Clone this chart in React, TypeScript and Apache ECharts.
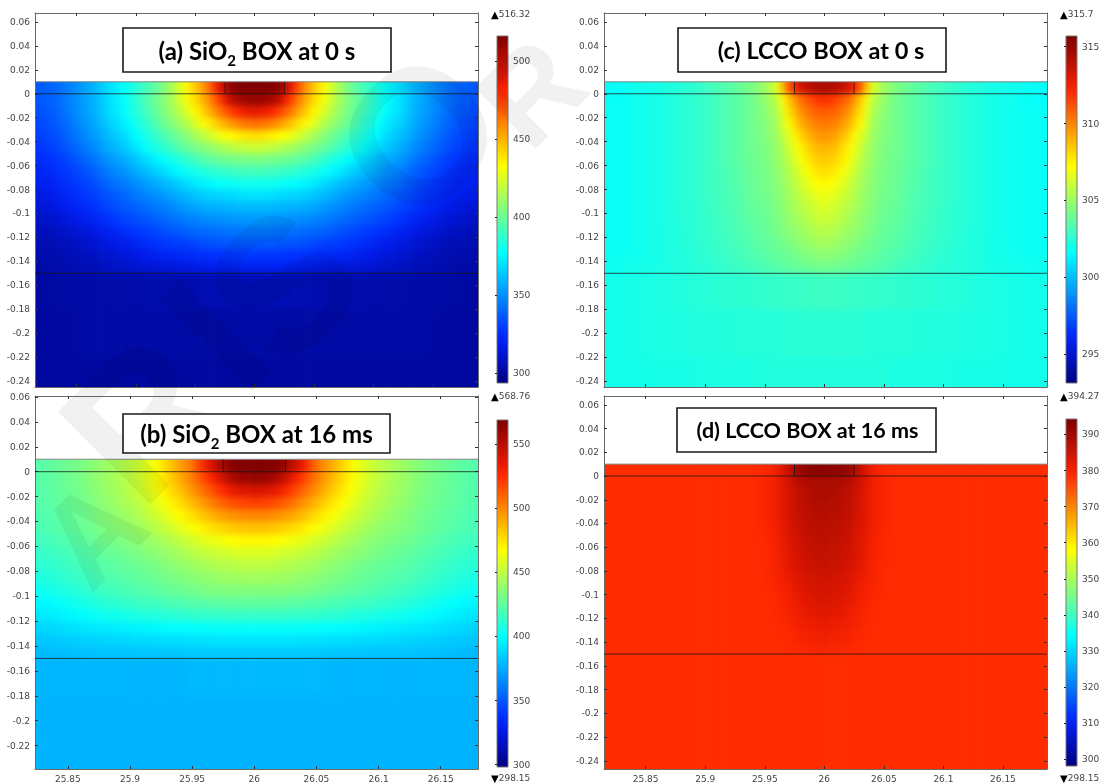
import React, { useEffect, useRef } from "react";
import * as echarts from "echarts";

const COL_OFFSETS_EDGES = [0.005, 0.015, 0.025, 0.035, 0.045, 0.055, 0.065, 0.075, 0.085, 0.095, 0.105, 0.115, 0.13, 0.15, 0.17, 0.21];
const ROW_EDGES = [0.03, 0, -0.01, -0.02, -0.03, -0.04, -0.05, -0.06, -0.07, -0.08, -0.09, -0.1, -0.11, -0.12, -0.13, -0.14, -0.15, -0.18, -0.22, -0.27];

const FIELD_A = [
  [516,516,514,490,462,445,430,414,402,393,386,378,370,356,344,335],
  [510,508,500,476,456,441,428,414,404,396,386,378,370,356,344,334],
  [489,486,476,463,448,434,422,411,402,393,385,377,369,355,343,332],
  [465,463,456,446,436,425,414,406,398,389,381,373,366,353,341,330],
  [440,438,434,429,421,413,405,398,391,384,377,369,362,350,338,328],
  [421,420,417,413,408,403,398,391,385,379,371,364,358,346,335,326],
  [404,403,402,400,397,392,386,381,376,370,363,357,352,341,331,323],
  [392,391,390,388,385,382,378,373,367,362,357,351,346,336,328,320],
  [381,380,379,378,375,372,367,363,358,354,350,345,341,332,325,318],
  [370,370,368,367,366,363,359,355,351,348,344,340,336,329,322,315],
  [360,360,359,358,357,355,352,348,345,342,339,336,332,325,318,312],
  [352,352,351,350,349,347,345,342,339,336,334,331,327,320,314,309],
  [344,344,343,342,341,340,338,335,333,330,328,325,321,315,310,306],
  [336,336,336,335,334,332,330,329,327,325,322,319,316,311,307,304],
  [328,328,328,327,326,325,323,322,321,319,316,314,312,308,305,303],
  [320,320,320,319,318,317,316,315,314,313,312,310,309,306,304,302],
  [305,305,305,305,305,304,304,304,304,304,303,303,303,302,302,301],
  [302,302,302,302,302,302,302,302,302,302,302,302,302,302,301,301],
  [301,301,301,301,301,301,301,301,301,301,301,301,301,301,301,301],
];

const FIELD_B = [
  [568,568,566,550,530,505,493,480,466,457,450,445,440,432,426,420],
  [562,560,552,535,518,503,490,478,466,457,450,445,440,432,426,420],
  [540,538,532,520,508,496,484,474,464,455,449,444,439,431,425,420],
  [520,518,514,506,496,486,476,468,459,452,446,442,437,430,425,420],
  [500,499,496,491,484,476,468,461,454,448,443,439,435,428,423,419],
  [484,483,481,477,472,466,460,454,448,443,439,436,433,427,422,418],
  [469,469,467,464,460,456,451,446,442,438,435,432,430,424,419,415],
  [458,458,456,454,451,448,444,440,437,434,431,428,426,421,416,412],
  [450,449,448,446,444,441,438,435,432,429,427,425,423,418,413,409],
  [442,442,441,440,438,436,433,431,428,426,424,422,420,415,410,405],
  [434,434,434,433,432,430,428,426,424,422,420,418,416,411,406,401],
  [425,425,425,424,423,422,420,419,417,416,414,412,410,405,400,396],
  [414,414,414,413,413,412,411,410,408,407,406,404,403,399,395,391],
  [401,401,401,401,401,400,400,399,398,397,396,395,394,392,389,386],
  [392,392,392,392,391,391,390,390,389,389,388,388,387,386,384,382],
  [384,384,384,384,384,384,383,383,383,383,382,382,382,381,380,379],
  [379,379,379,379,379,379,378,378,378,378,378,378,378,378,378,378],
  [377,377,377,377,377,377,377,377,377,377,377,377,377,377,377,377],
  [377,377,377,377,377,377,377,377,377,377,377,377,377,377,377,377],
];

const FIELD_C = [
  [314.5,314.3,313.5,311,306.5,305,304.3,303.9,303.5,303.2,302.9,302.6,302.4,302.1,301.9,301.6],
  [312,311.5,310.5,308.5,305.8,304.8,304.1,303.7,303.4,303.1,302.8,302.6,302.4,302.1,301.9,301.6],
  [311,310.7,309.7,307.9,305.5,304.6,304.1,303.7,303.4,303.1,302.8,302.6,302.4,302.1,301.9,301.7],
  [310.3,310,309,307.3,305.3,304.5,304.1,303.7,303.4,303.1,302.8,302.6,302.4,302.1,301.9,301.7],
  [309.7,309.3,308.2,306.6,305.1,304.4,304.1,303.7,303.4,303.1,302.8,302.6,302.4,302.1,301.9,301.7],
  [309,308.6,307.5,306.1,304.9,304.3,304.1,303.7,303.4,303.1,302.8,302.6,302.4,302.1,301.9,301.7],
  [308.5,308.1,307.1,305.8,304.8,304.3,304,303.7,303.4,303.1,302.8,302.6,302.4,302.1,301.9,301.7],
  [308,307.6,306.6,305.5,304.7,304.2,304,303.6,303.3,303,302.8,302.6,302.4,302.1,301.9,301.7],
  [307.4,307,306.2,305.3,304.6,304.2,303.9,303.6,303.3,303,302.8,302.6,302.4,302.1,301.9,301.7],
  [306.9,306.5,305.9,305.1,304.5,304.1,303.9,303.5,303.2,303,302.8,302.6,302.4,302.1,301.9,301.7],
  [306.5,306.1,305.6,305,304.4,304,303.8,303.5,303.2,303,302.7,302.5,302.4,302.1,301.9,301.7],
  [306.1,305.8,305.3,304.8,304.3,303.9,303.7,303.4,303.1,302.9,302.7,302.5,302.4,302.1,301.9,301.7],
  [305.7,305.4,305,304.6,304.2,303.8,303.6,303.3,303.1,302.9,302.7,302.5,302.3,302.1,301.9,301.7],
  [305.2,305,304.7,304.3,304,303.7,303.5,303.2,303,302.8,302.6,302.5,302.3,302.1,301.9,301.7],
  [304.7,304.5,304.3,304,303.8,303.5,303.3,303.1,302.9,302.7,302.6,302.4,302.3,302.1,301.9,301.8],
  [304.1,304,303.9,303.7,303.5,303.3,303.1,302.9,302.8,302.6,302.5,302.4,302.3,302.1,302,301.8],
  [302.9,302.9,302.8,302.8,302.7,302.7,302.6,302.6,302.5,302.5,302.4,302.4,302.3,302.2,302.1,302],
  [302.5,302.5,302.5,302.5,302.4,302.4,302.4,302.4,302.3,302.3,302.3,302.3,302.2,302.2,302.1,302],
  [302.3,302.3,302.3,302.3,302.3,302.3,302.2,302.2,302.2,302.2,302.2,302.1,302.1,302.1,302,302],
];

const FIELD_D = [
  [393,393,392,386,381,379,378.5,378.5,378.5,378.5,378.5,378.5,378.5,378.5,378.5,378.5],
  [389,389,388,385,381,379.5,378.7,378.5,378.5,378.5,378.5,378.5,378.5,378.5,378.5,378.5],
  [389,388.5,387,384,381,379.5,378.7,378.5,378.5,378.5,378.5,378.5,378.5,378.5,378.5,378.5],
  [388.5,388,386.8,384,381,379.5,378.7,378.5,378.5,378.5,378.5,378.5,378.5,378.5,378.5,378.5],
  [388,387.5,386.5,384,381,379.5,378.7,378.5,378.5,378.5,378.5,378.5,378.5,378.5,378.5,378.5],
  [387.5,387,386,383.5,380.8,379.2,378.6,378.5,378.5,378.5,378.5,378.5,378.5,378.5,378.5,378.5],
  [387,386.5,385.5,383,380.5,379,378.6,378.5,378.5,378.5,378.5,378.5,378.5,378.5,378.5,378.5],
  [386.5,386,385,382.8,380.2,379,378.5,378.5,378.5,378.5,378.5,378.5,378.5,378.5,378.5,378.5],
  [386,385.5,384.5,382.5,380,379,378.5,378.5,378.5,378.5,378.5,378.5,378.5,378.5,378.5,378.5],
  [385.2,384.8,383.8,381.8,379.8,378.8,378.5,378.5,378.5,378.5,378.5,378.5,378.5,378.5,378.5,378.5],
  [384.5,384,383,381,379.5,378.7,378.5,378.5,378.5,378.5,378.5,378.5,378.5,378.5,378.5,378.5],
  [383.8,383.3,382.3,380.5,379.2,378.6,378.5,378.5,378.5,378.5,378.5,378.5,378.5,378.5,378.5,378.5],
  [383,382.5,381.5,380,379,378.6,378.5,378.5,378.5,378.5,378.5,378.5,378.5,378.5,378.5,378.5],
  [382,381.5,380.8,379.5,378.8,378.5,378.5,378.5,378.5,378.5,378.5,378.5,378.5,378.5,378.5,378.5],
  [381,380.5,380,379,378.6,378.5,378.5,378.5,378.5,378.5,378.5,378.5,378.5,378.5,378.5,378.5],
  [380,379.6,379.2,378.7,378.5,378.5,378.5,378.5,378.5,378.5,378.5,378.5,378.5,378.5,378.5,378.5],
  [378.5,378.5,378.5,378.5,378.5,378.5,378.5,378.5,378.5,378.5,378.5,378.5,378.5,378.5,378.5,378.5],
  [378.5,378.5,378.5,378.5,378.5,378.5,378.5,378.5,378.5,378.5,378.5,378.5,378.5,378.5,378.5,378.5],
  [378.5,378.5,378.5,378.5,378.5,378.5,378.5,378.5,378.5,378.5,378.5,378.5,378.5,378.5,378.5,378.5],
];

const X_TICKS = [25.85, 25.9, 25.95, 26, 26.05, 26.1, 26.15];
const Y_TICKS_LONG = [0.06, 0.04, 0.02, 0, -0.02, -0.04, -0.06, -0.08, -0.1, -0.12, -0.14, -0.16, -0.18, -0.2, -0.22, -0.24];
const Y_TICKS_SHORT = [0.06, 0.04, 0.02, 0, -0.02, -0.04, -0.06, -0.08, -0.1, -0.12, -0.14, -0.16, -0.18, -0.2, -0.22];
const BAR_TICKS_A = [300, 350, 400, 450, 500];
const BAR_TICKS_B = [300, 350, 400, 450, 500, 550];
const BAR_TICKS_C = [295, 300, 305, 310, 315];
const BAR_TICKS_D = [300, 310, 320, 330, 340, 350, 360, 370, 380, 390];
const HEATER_EDGES = [25.975, 26.025];
const SURFACE_Y = 0;
const BOX_BOTTOM_Y = -0.15;
const FIELD_TOP_Y = 0.01;
const WATERMARK_LETTERS = ["A", "R", "I", "S", "O", "R"];
const WATERMARK_PLACES = [[92, 532, 125], [143, 418, 190], [215, 335, 190], [283, 284, 190], [418, 135, 190], [531, 92, 125]];

const PANELS = [
  { field: FIELD_A, rect: [35, 13, 443, 374], xr: [25.815, 26.188], yr: [-0.245, 0.0675], yt: Y_TICKS_LONG, xl: false, bar: [497, 36, 11, 347], tr: [293.6, 516.32], bt: BAR_TICKS_A, maxLabel: "516.32", minLabel: "", labelXY: [491, 15],
    title: ["(a) SiO", "2", " BOX at 0 s"], box: [123, 28, 268, 44], titleSize: 24, titleDx: 0 },
  { field: FIELD_B, rect: [35, 396, 443, 374], xr: [25.8235, 26.18], yr: [-0.2388, 0.0608], yt: Y_TICKS_SHORT, xl: true, bar: [497, 420, 11, 347], tr: [298.15, 568.76], bt: BAR_TICKS_B, maxLabel: "568.76", minLabel: "298.15", labelXY: [491, 397],
    title: ["(b) SiO", "2", " BOX at 16 ms"], box: [123, 414, 267, 39], titleSize: 24, titleDx: 0 },
  { field: FIELD_C, rect: [604, 13, 443, 374], xr: [25.815, 26.187], yr: [-0.245, 0.0675], yt: Y_TICKS_LONG, xl: false, bar: [1066, 36, 11, 347], tr: [293.1, 315.7], bt: BAR_TICKS_C, maxLabel: "315.7", minLabel: "", labelXY: [1060, 15],
    title: ["(c) LCCO BOX at 0 s"], box: [678, 28, 268, 44], titleSize: 23.5, titleDx: 9 },
  { field: FIELD_D, rect: [604, 396, 443, 373], xr: [25.815, 26.187], yr: [-0.2468, 0.0674], yt: Y_TICKS_LONG, xl: true, bar: [1066, 419, 11, 347], tr: [298.15, 394.27], bt: BAR_TICKS_D, maxLabel: "394.27", minLabel: "298.15", labelXY: [1060, 397],
    title: ["(d) LCCO BOX at 16 ms"], box: [677, 408, 259, 44], titleSize: 21.5, titleDx: 1 },
];

const JET: [number, number, number, number][] = [
  [0, 0, 0, 128], [0.11, 0, 28, 235], [0.15, 0, 50, 255], [0.375, 0, 255, 255],
  [0.625, 255, 255, 0], [0.84, 255, 40, 0], [0.875, 230, 25, 0], [1, 127, 0, 0],
];

function jet(p: number) {
  const t = Math.max(0, Math.min(1, p));
  for (let i = 1; i < JET.length; i++) {
    if (t <= JET[i][0]) {
      const a = JET[i - 1], b = JET[i];
      const f = (t - a[0]) / (b[0] - a[0]);
      const c = [1, 2, 3].map((k) => Math.round(a[k] + (b[k] - a[k]) * f));
      return `rgb(${c[0]},${c[1]},${c[2]})`;
    }
  }
  return "rgb(127,0,0)";
}

const TEXT = "#444";
const FRAME = "#6a6a6a";
const LABEL_FONT = "DejaVu Sans";

function fieldOption() {
  const grid: any[] = [], xAxis: any[] = [], yAxis: any[] = [], series: any[] = [];
  PANELS.forEach((p, i) => {
    grid.push({ left: p.rect[0], top: p.rect[1], width: p.rect[2], height: p.rect[3] });
    xAxis.push({ type: "value", gridIndex: i, min: p.xr[0], max: p.xr[1], show: false });
    yAxis.push({ type: "value", gridIndex: i, min: p.yr[0], max: p.yr[1], show: false });
    const cells: number[][] = [];
    p.field.forEach((row, r) => {
      row.forEach((v, c) => {
        const inner = c === 0 ? 0 : COL_OFFSETS_EDGES[c - 1];
        const outer = COL_OFFSETS_EDGES[c];
        const toCentre = c === 0 ? row[1] : row[c - 1];
        const toEdge = c === row.length - 1 ? v : row[c + 1];
        const y0 = ROW_EDGES[r], y1 = ROW_EDGES[r + 1];
        if (c === 0) {
          cells.push([26 - outer, 26 + outer, y0, y1, v, toCentre, toCentre]);
        } else {
          cells.push([26 - outer, 26 - inner, y0, y1, v, toEdge, toCentre]);
          cells.push([26 + inner, 26 + outer, y0, y1, v, toCentre, toEdge]);
        }
      });
    });
    const [lo, hi] = p.tr;
    const col = (t: number) => jet((t - lo) / (hi - lo));
    series.push({
      type: "custom",
      xAxisIndex: i,
      yAxisIndex: i,
      silent: true,
      clip: false,
      encode: { x: [0, 1], y: [2, 3] },
      data: cells,
      renderItem: (_: any, api: any) => {
        const a = api.coord([api.value(0), api.value(2)]);
        const b = api.coord([api.value(1), api.value(3)]);
        const v = api.value(4), l = api.value(5), r = api.value(6);
        return {
          type: "rect",
          shape: { x: a[0], y: a[1], width: b[0] - a[0] + 0.6, height: b[1] - a[1] + 1 },
          style: {
            fill: new echarts.graphic.LinearGradient(0, 0, 1, 0, [
              { offset: 0, color: col((v + l) / 2) },
              { offset: 0.5, color: col(v) },
              { offset: 1, color: col((v + r) / 2) },
            ]),
          },
        };
      },
    });
  });
  return { animation: false, grid, xAxis, yAxis, series };
}

function overlayOption() {
  const grid: any[] = [], xAxis: any[] = [], yAxis: any[] = [], series: any[] = [], graphic: any[] = [];
  const tick = { show: true, inside: true, length: 3, lineStyle: { color: "#333", width: 1 } };
  const line = { show: true, onZero: false, lineStyle: { color: FRAME, width: 1 } };
  PANELS.forEach((p) => {
    grid.push({ left: p.rect[0], top: p.rect[1], width: p.rect[2], height: p.rect[3] });
    const gi = grid.length - 1;
    const xBase = { type: "value", gridIndex: gi, min: p.xr[0], max: p.xr[1], splitLine: { show: false }, axisLine: line };
    const yBase = { type: "value", gridIndex: gi, min: p.yr[0], max: p.yr[1], splitLine: { show: false }, axisLine: line };
    const xi = xAxis.length, yi = yAxis.length;
    xAxis.push({
      ...xBase, position: "bottom",
      axisTick: { ...tick, customValues: X_TICKS },
      axisLabel: { show: p.xl, customValues: X_TICKS, color: TEXT, fontSize: 9, fontFamily: LABEL_FONT, margin: 5, formatter: (v: number) => String(v) },
    });
    xAxis.push({ ...xBase, position: "top", axisTick: { ...tick, customValues: X_TICKS }, axisLabel: { show: false } });
    yAxis.push({
      ...yBase, position: "left",
      axisTick: { ...tick, customValues: p.yt },
      axisLabel: { customValues: p.yt, color: TEXT, fontSize: 9, fontFamily: LABEL_FONT, margin: 5, formatter: (v: number) => String(v) },
    });
    yAxis.push({ ...yBase, position: "right", axisTick: { ...tick, customValues: p.yt }, axisLabel: { show: false } });

    const stroke = { color: "rgba(20,20,20,0.75)", width: 1 };
    const hl = (y: number) => ({
      type: "line", xAxisIndex: xi, yAxisIndex: yi, symbol: "none", silent: true, lineStyle: stroke,
      data: [[p.xr[0], y], [p.xr[1], y]],
    });
    series.push(hl(SURFACE_Y), hl(BOX_BOTTOM_Y));
    HEATER_EDGES.forEach((x) => {
      series.push({
        type: "line", xAxisIndex: xi, yAxisIndex: yi, symbol: "none", silent: true, lineStyle: stroke,
        data: [[x, SURFACE_Y], [x, FIELD_TOP_Y]],
      });
    });
    series.push({
      type: "line", xAxisIndex: xi, yAxisIndex: yi, symbol: "none", silent: true,
      lineStyle: { color: "rgba(120,120,120,0.9)", width: 1 },
      data: [[p.xr[0], FIELD_TOP_Y], [p.xr[1], FIELD_TOP_Y]],
    });

    grid.push({ left: p.bar[0], top: p.bar[1], width: p.bar[2], height: p.bar[3] });
    const bg = grid.length - 1;
    const bx = xAxis.length, by = yAxis.length;
    xAxis.push({ type: "value", gridIndex: bg, min: 0, max: 1, show: false });
    yAxis.push({
      type: "value", gridIndex: bg, min: p.tr[0], max: p.tr[1], position: "right", z: 5,
      splitLine: { show: false },
      axisLine: { show: false },
      axisTick: { show: true, inside: true, length: 2, lineStyle: { color: "#222" }, customValues: p.bt },
      axisLabel: { customValues: p.bt, color: TEXT, fontSize: 9, fontFamily: LABEL_FONT, margin: 5, formatter: (v: number) => String(v) },
    });
    const stops = JET.map((s) => ({ offset: s[0], color: `rgb(${s[1]},${s[2]},${s[3]})` }));
    series.push({
      type: "custom", xAxisIndex: bx, yAxisIndex: by, silent: true, z: 0,
      encode: { x: 0, y: [1, 2] },
      data: [[0, p.tr[0], p.tr[1]]],
      renderItem: (_: any, api: any) => {
        const a = api.coord([0, api.value(2)]);
        const b = api.coord([1, api.value(1)]);
        return {
          type: "rect",
          shape: { x: a[0], y: a[1], width: b[0] - a[0], height: b[1] - a[1] },
          style: {
            stroke: "#777", lineWidth: 1,
            fill: new echarts.graphic.LinearGradient(0, 1, 0, 0, stops),
          },
        };
      },
    });

    const labelRich = {
      m: { fontSize: 10, fill: "#000", fontFamily: LABEL_FONT },
      t: { fontSize: 9, fill: TEXT, fontFamily: LABEL_FONT },
    };
    graphic.push({
      type: "text", left: p.labelXY[0], top: p.labelXY[1] - 6, z: 20,
      style: { text: `{m|\u25B2}{t|${p.maxLabel}}`, rich: labelRich },
    });
    if (p.minLabel) {
      graphic.push({
        type: "text", left: p.labelXY[0], top: 773, z: 20,
        style: { text: `{m|\u25BC}{t|${p.minLabel}}`, rich: labelRich },
      });
    }

    graphic.push({
      type: "rect", z: 30,
      shape: { x: p.box[0], y: p.box[1], width: p.box[2], height: p.box[3] },
      style: { fill: "#fff", stroke: "#1a1a1a", lineWidth: 1.6 },
    });
    const text = p.title.length === 3 ? `{a|${p.title[0]}}{s|${p.title[1]}}{a|${p.title[2]}}` : `{a|${p.title[0]}}`;
    graphic.push({
      type: "text", z: 31,
      x: p.box[0] + p.box[2] / 2 + p.titleDx, y: p.box[1] + p.box[3] / 2,
      style: {
        text, align: "center", verticalAlign: "middle",
        rich: {
          a: { fontSize: p.titleSize, fontWeight: "bold", fontFamily: "Lato", fill: "#000", lineHeight: 34, verticalAlign: "middle" },
          s: { fontSize: 15, fontWeight: "bold", fontFamily: "Lato", fill: "#000", lineHeight: 34, verticalAlign: "bottom" },
        },
      },
    });
  });
  WATERMARK_LETTERS.forEach((letter, i) => {
    const [x, y, size] = WATERMARK_PLACES[i];
    graphic.push({
      type: "text", z: 25, silent: true, x, y, rotation: Math.PI / 4,
      style: {
        text: letter, align: "center", verticalAlign: "middle",
        fontFamily: "Liberation Sans", fontWeight: "bold", fontSize: size, fill: "rgba(0,0,0,0.055)",
      },
    });
  });
  return { animation: false, grid, xAxis, yAxis, series, graphic };
}

function clipPath() {
  const part = PANELS.map((p) => {
    const top = p.rect[1] + ((p.yr[1] - FIELD_TOP_Y) / (p.yr[1] - p.yr[0])) * p.rect[3];
    const x0 = p.rect[0], x1 = p.rect[0] + p.rect[2], y1 = p.rect[1] + p.rect[3];
    return `M${x0} ${top}L${x1} ${top}L${x1} ${y1}L${x0} ${y1}Z`;
  });
  return `path('${part.join("")}')`;
}

export default function App() {
  const fieldRef = useRef<HTMLDivElement>(null);
  const overRef = useRef<HTMLDivElement>(null);
  useEffect(() => {
    document.body.style.margin = "0";
    const a = echarts.init(fieldRef.current!, undefined, { renderer: "svg" });
    const b = echarts.init(overRef.current!, undefined, { renderer: "svg" });
    a.setOption(fieldOption() as any);
    b.setOption(overlayOption() as any);
    return () => {
      a.dispose();
      b.dispose();
    };
  }, []);
  const full: React.CSSProperties = { position: "absolute", left: 0, top: 0, width: 1103, height: 783 };
  return (
    <div style={{ ...full, background: "#fff", overflow: "hidden" }}>
      <div style={{ ...full, clipPath: clipPath() }}>
        <div ref={fieldRef} style={{ ...full, filter: "blur(3px)" }} />
      </div>
      <div ref={overRef} style={{ ...full, filter: "blur(0.35px)" }} />
    </div>
  );
}
